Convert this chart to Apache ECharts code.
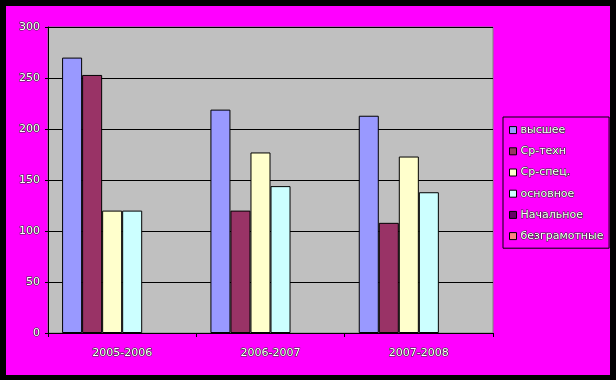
<!DOCTYPE html>
<html><head><meta charset="utf-8">
<script src="https://cdn.jsdelivr.net/npm/echarts@6/dist/echarts.min.js"></script>
<style>
html,body{margin:0;padding:0;background:#000;width:616px;height:380px;overflow:hidden}
#c{position:absolute;left:6px;top:6px;width:604px;height:369px}
</style></head><body><div id="c"></div>
<script>
const categories = ['2005-2006', '2006-2007', '2007-2008'];
const seriesNames = ['высшее', 'Ср-техн', 'Ср-спец.', 'основное', 'Начальное', 'безграмотные'];
const vysshee = [270, 219, 213];
const srTekhn = [253, 120, 108];
const srSpets = [120, 177, 173];
const osnovnoe = [120, 144, 138];
const nachalnoe = [null, null, null];
const bezgramotnye = [null, null, null];
const colors = ['#9999FF', '#993366', '#FFFFCC', '#CCFFFF', '#660066', '#FF8080'];
const yTicks = [0, 50, 100, 150, 200, 250, 300];

const seriesData = [vysshee, srTekhn, srSpets, osnovnoe, nachalnoe, bezgramotnye];
const txt = {color:'#fff', fontFamily:'DejaVu Sans, sans-serif', fontSize:11, textBorderColor:'#333', textBorderWidth:1.2};
const chart = echarts.init(document.getElementById('c'));
chart.setOption({
  backgroundColor:'#FF00FF',
  animation:false,
  grid:{left:42, top:21, right:117, bottom:42, show:true, backgroundColor:'#C0C0C0', borderColor:'#808080', borderWidth:1},
  legend:{
    orient:'vertical', left:497, top:111,
    data:seriesNames,
    icon:'rect', itemWidth:7, itemHeight:7, itemGap:9,
    padding:[7,5,6,6],
    borderColor:'#000', borderWidth:1,
    textStyle:Object.assign({}, txt, {padding:[0,0,0,-1]}),
    itemStyle:{borderColor:'#000', borderWidth:1}
  },
  xAxis:{
    type:'category', data:categories,
    axisLine:{lineStyle:{color:'#000', width:1}},
    axisTick:{show:true, length:4, lineStyle:{color:'#000'}},
    axisLabel:Object.assign({}, txt, {margin:15}),
    splitLine:{show:false}
  },
  yAxis:{
    type:'value', min:yTicks[0], max:yTicks[yTicks.length-1], interval:50,
    axisLine:{show:true, lineStyle:{color:'#000', width:1}},
    axisTick:{show:true, length:3, lineStyle:{color:'#000'}},
    axisLabel:Object.assign({}, txt, {margin:8}),
    splitLine:{show:true, lineStyle:{color:'#000', width:1}}
  },
  series:seriesNames.map((n,i)=>({
    name:n, type:'bar', data:seriesData[i],
    barGap:'0%', barCategoryGap:'19%',
    itemStyle:{color:colors[i], borderColor:'#000', borderWidth:1}
  }))
});
</script></body></html>
